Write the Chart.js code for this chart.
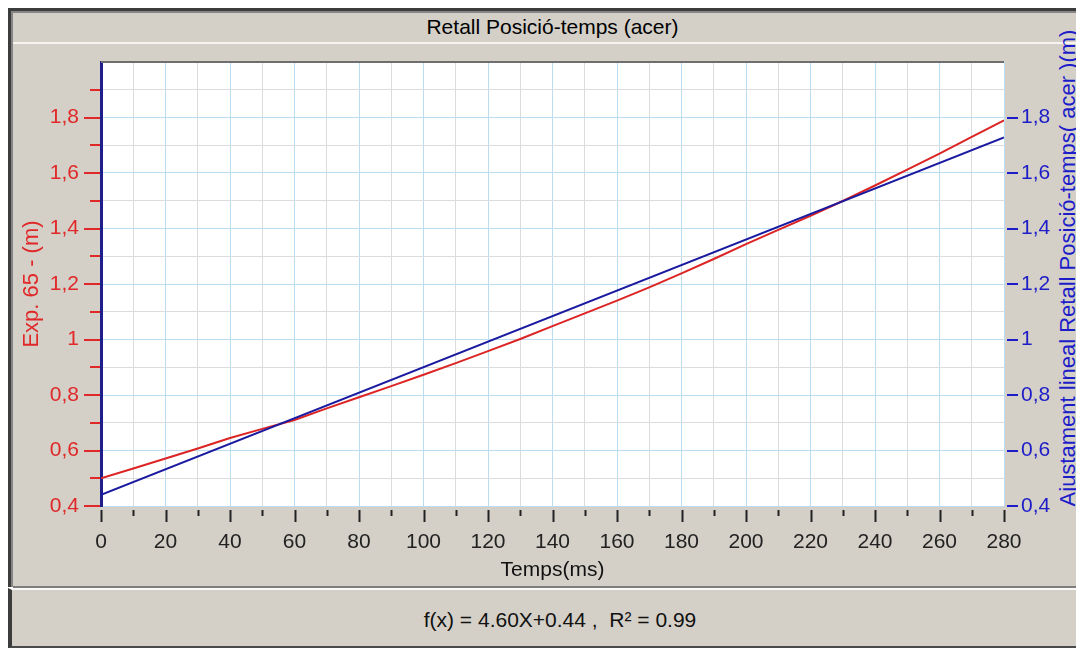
<!DOCTYPE html>
<html>
<head>
<meta charset="utf-8">
<title>Retall Posició-temps (acer)</title>
<script src="https://cdn.jsdelivr.net/npm/chart.js@4.4.1/dist/chart.umd.min.js"></script>
<style>
  html, body { margin: 0; padding: 0; background: #fff; width: 1076px; height: 648px; overflow: hidden; }
  body { position: relative; font-family: "Liberation Sans", Arial, sans-serif; }
  .frame {
    position: absolute; left: 8px; top: 8px; width: 1100px; height: 579px;
    box-sizing: border-box; background: #d4d0c8;
    border-top: 3px solid #3c3c3c; border-left: 3px solid #3c3c3c;
    box-shadow: inset 2px 2px 0 #858585;
  }
  .title-line { position: absolute; left: 13px; top: 42px; width: 1100px; height: 2px; background: #f5f4f0; }
  .sep-dark  { position: absolute; left: 13px; top: 586px; width: 1100px; height: 2px; background: #7e7e7e; }
  .footer {
    position: absolute; left: 8px; top: 588px; width: 1100px; height: 60px;
    box-sizing: border-box; background: #d4d0c8;
    border-top: 2px solid #fbfaf7; border-left: 4px solid #3c3c3c; border-bottom: 2px solid #4a4a4a;
  }
  .txt { position: absolute; white-space: nowrap; text-align: center; font-size: 21px; }
  #chart-title { left: 101px; width: 903px; top: 14px; height: 26px; line-height: 26px; color: #000; }
  #fit-text    { left: 120px; width: 880px; top: 607px; height: 26px; line-height: 26px; color: #111; }
  #y2-title {
    left: 828px; width: 480px; top: 255px; height: 26px; line-height: 26px; color: #1c1cc8;
    font-size: 22px; transform: rotate(-90deg);
  }
  #chart { position: absolute; left: 0; top: 0; }
</style>
</head>
<body>
<div class="frame"></div>
<div class="title-line"></div>
<div class="sep-dark"></div>
<div class="footer"></div>
<div class="txt" id="chart-title">Retall Posició-temps (acer)</div>
<div class="txt" id="fit-text">f(x) = 4.60X+0.44 ,&nbsp; R² = 0.99</div>
<div class="txt" id="y2-title">Ajustament lineal Retall Posició-temps( acer )(m)</div>
<canvas id="chart" width="1076" height="648"></canvas>
<script>
// ── Data ──────────────────────────────────────────────────
const timeMs    = [0, 10, 20, 30, 40, 50, 60, 70, 80, 90, 100, 110, 120, 130, 140,
                   150, 160, 170, 180, 190, 200, 210, 220, 230, 240, 250, 260, 270, 280];
const expValues = [0.50, 0.535, 0.571, 0.607, 0.645, 0.678, 0.71, 0.752, 0.792, 0.832,
                   0.873, 0.915, 0.958, 1.002, 1.048, 1.094, 1.14, 1.188, 1.238, 1.29,
                   1.344, 1.395, 1.446, 1.499, 1.555, 1.612, 1.67, 1.73, 1.79];
const fitTimes  = [0, 280];
const fitValues = [0.44, 1.728];

const xRange = [0, 280];
const yRange = [0.4, 2.0];

// ── Colours ───────────────────────────────────────────────
const RED       = "#dc2424";
const RED_TXT   = "#e02828";
const BLUE      = "#1a1aa0";
const BLUE_TXT  = "#1c1cc8";
const AXIS_NAVY = "#1e1e8c";
const GRID_MAJ  = "#bcdcf2";
const GRID_MIN  = "#dcdcdc";

const fmt = v => String(Math.round(v * 10) / 10).replace(".", ",");
const isMajorY = v => Math.round(v * 10) % 2 === 0;
const isMajorX = v => Math.round(v) % 20 === 0;

Chart.defaults.font.family = "'Liberation Sans', Arial, sans-serif";
Chart.defaults.font.size   = 21;

// ── Plot background, top frame and tick marks ─────────────
const chrome = {
  id: "chrome",
  beforeDraw(chart) {
    const { ctx, chartArea: a } = chart;
    ctx.save();
    ctx.fillStyle = "#fff";
    ctx.fillRect(a.left, a.top, a.right - a.left, a.bottom - a.top);
    ctx.restore();
  },
  afterDraw(chart) {
    const { ctx, chartArea: a, scales } = chart;
    ctx.save();
    ctx.lineWidth = 2;

    ctx.strokeStyle = "#6e6e6e";
    ctx.beginPath();
    ctx.moveTo(a.left, a.top);
    ctx.lineTo(a.right, a.top);
    ctx.stroke();

    ctx.strokeStyle = "#222";
    scales.x.ticks.forEach(t => {
      const px = Math.round(scales.x.getPixelForValue(t.value)) + 0.5;
      ctx.beginPath();
      ctx.moveTo(px, a.bottom + 4);
      ctx.lineTo(px, a.bottom + (isMajorX(t.value) ? 16 : 10));
      ctx.stroke();
    });

    ctx.strokeStyle = RED_TXT;
    scales.y.ticks.forEach(t => {
      if (t.value > 1.95) return;
      const py = Math.round(scales.y.getPixelForValue(t.value));
      ctx.beginPath();
      ctx.moveTo(a.left - (isMajorY(t.value) ? 17 : 11), py);
      ctx.lineTo(a.left - 1, py);
      ctx.stroke();
    });

    ctx.strokeStyle = BLUE_TXT;
    scales.y2.ticks.forEach(t => {
      if (t.value > 1.95) return;
      const py = Math.round(scales.y2.getPixelForValue(t.value));
      ctx.beginPath();
      ctx.moveTo(a.right + 3, py);
      ctx.lineTo(a.right + 14, py);
      ctx.stroke();
    });
    ctx.restore();
  },
};

new Chart(document.getElementById("chart"), {
  type: "line",
  data: {
    datasets: [
      {
        label: "Exp. 65",
        data: timeMs.map((t, i) => ({ x: t, y: expValues[i] })),
        borderColor: RED,
        borderWidth: 2,
        pointRadius: 0,
        yAxisID: "y",
        order: 1,
      },
      {
        label: "Ajustament lineal",
        data: fitTimes.map((t, i) => ({ x: t, y: fitValues[i] })),
        borderColor: BLUE,
        borderWidth: 2,
        pointRadius: 0,
        yAxisID: "y2",
        order: 0,
      },
    ],
  },
  options: {
    responsive: false,
    animation: false,
    layout: { padding: { top: 62, bottom: 62, left: 0, right: 0 } },
    plugins: { legend: { display: false }, tooltip: { enabled: false } },
    scales: {
      x: {
        type: "linear",
        min: xRange[0], max: xRange[1],
        afterFit: s => { s.height = 80; },
        ticks: {
          stepSize: 10, autoSkip: false, maxRotation: 0, padding: 24, color: "#222",
          callback: v => (isMajorX(v) ? String(v) : ""),
        },
        grid: {
          drawTicks: false,
          color: c => (isMajorX(c.tick.value) ? GRID_MAJ : GRID_MIN),
        },
        border: { display: false },
        title: { display: true, text: "Temps(ms)", color: "#111", padding: { top: 0, bottom: 3 } },
      },
      y: {
        position: "left",
        min: yRange[0], max: yRange[1],
        afterFit: s => { s.width = 101; },
        ticks: {
          stepSize: 0.1, autoSkip: false, padding: 22, color: RED_TXT,
          callback: v => (isMajorY(v) && v < 1.95 ? fmt(v) : ""),
        },
        grid: {
          drawTicks: false,
          color: c => (isMajorY(c.tick.value) ? GRID_MAJ : GRID_MIN),
        },
        border: { display: true, color: AXIS_NAVY, width: 3 },
        title: {
          display: true, text: "Exp. 65 - (m)", color: RED_TXT,
          font: { size: 22 }, padding: { top: 19, bottom: 0 },
        },
      },
      y2: {
        position: "right",
        min: yRange[0], max: yRange[1],
        afterFit: s => { s.width = 72; },
        ticks: {
          stepSize: 0.2, autoSkip: false, padding: 17, color: BLUE_TXT,
          callback: v => (v < 1.95 ? fmt(v) : ""),
        },
        grid: { drawTicks: false, drawOnChartArea: false },
        border: { display: false },
      },
    },
  },
  plugins: [chrome],
});
</script>
</body>
</html>
